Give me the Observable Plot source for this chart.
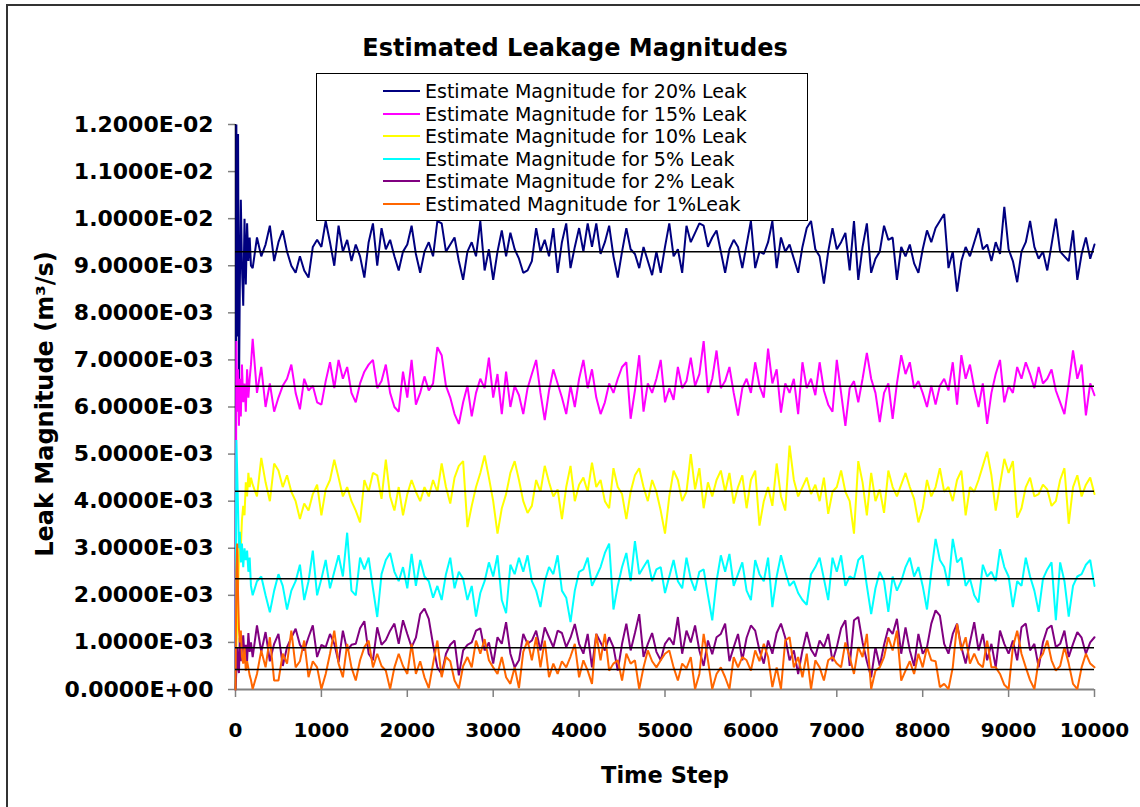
<!DOCTYPE html>
<html><head><meta charset="utf-8">
<script src="https://cdn.jsdelivr.net/npm/d3@7"></script>
<script src="https://cdn.jsdelivr.net/npm/@observablehq/plot@0.6"></script>
<style>
html,body{margin:0;padding:0;background:#fff;}
#wrap{position:relative;width:1140px;height:807px;overflow:hidden;font-family:"DejaVu Sans",sans-serif;}
#frame{position:absolute;left:6px;top:4px;width:1150px;height:830px;border:2px solid #333;box-sizing:border-box;}
#chart{position:absolute;left:0;top:0;}
#chart svg text{font-weight:bold;font-family:"DejaVu Sans",sans-serif;fill:#000;}
#chart g[aria-label^="y-axis"] text{font-size:22px;}
#chart g[aria-label^="x-axis"] text{font-size:20px;}
#chart g[aria-label^="y-axis"] line, #chart g[aria-label^="x-axis"] line,
#chart g[aria-label^="y-axis"] path, #chart g[aria-label^="x-axis"] path{stroke:#808080;stroke-width:1.5px;}
#title{position:absolute;left:0;width:1150px;top:33px;text-align:center;font-weight:bold;font-size:24px;line-height:30px;color:#000;}
#ytitle{position:absolute;left:45px;top:404px;transform:translate(-50%,-50%) rotate(-90deg);white-space:nowrap;font-weight:bold;font-size:24px;color:#000;}
#legend{position:absolute;left:316px;top:73px;width:492px;height:148px;border:1px solid #000;box-sizing:border-box;background:#fff;}
.row{position:absolute;left:66px;height:22px;display:flex;align-items:center;font-size:19px;color:#000;white-space:nowrap;}
.sw{width:37px;height:0;border-top:2px solid;margin-right:5px;}
</style></head>
<body>
<div id="wrap">
  <div id="frame"></div>
  <div id="chart"></div>
  <div id="title"></div>
  <div id="ytitle"></div>
  <div id="legend"></div>
</div>
<script>
// ---- data (leak magnitude values in units of 1e-3 m^3/s) ----
const chartTitle = "Estimated Leakage Magnitudes";
const xLabel = "Time Step";
const yLabel = "Leak Magnitude (m³/s)";
const seriesNames = [
  "Estimate Magnitude for 20% Leak",
  "Estimate Magnitude for 15% Leak",
  "Estimate Magnitude for 10% Leak",
  "Estimate Magnitude for 5% Leak",
  "Estimate Magnitude for 2% Leak",
  "Estimated Magnitude for 1%Leak"
];
const seriesColors = ["#000080", "#FF00FF", "#FFFF00", "#00FFFF", "#800080", "#FF6600"];
const xTicks = [0, 1000, 2000, 3000, 4000, 5000, 6000, 7000, 8000, 9000, 10000];
const yTicks = [0, 0.001, 0.002, 0.003, 0.004, 0.005, 0.006, 0.007, 0.008, 0.009, 0.010, 0.011, 0.012];
const trueLevels = [9.30, 6.44, 4.21, 2.35, 0.886, 0.425];

// early transient time steps and values
const earlySteps = [0, 10, 20, 30, 40, 50, 62, 75, 90, 105, 120, 135, 150, 165, 180];
const early20 = [0, 12.0, 7.5, 11.8, 6.2, 8.5, 10.4, 9.0, 8.15, 10.0, 8.6, 9.9, 9.1, 9.6, 9.0];
const early15 = [0, 7.4, 5.9, 6.8, 5.6, 6.6, 5.8, 6.9, 6.1, 6.5, 5.9, 6.8, 6.2, 6.6, 6.9];
const early10 = [0, 0.9, 1.4, 2.2, 2.8, 3.3, 3.0, 3.6, 3.9, 3.7, 4.4, 4.1, 4.6, 4.3, 4.5];
const early5  = [0, 5.3, 4.6, 3.8, 3.0, 3.35, 2.7, 3.1, 2.6, 3.0, 2.75, 2.95, 2.5, 2.8, 2.2];
const early2  = [0, 0.4, 0.9, 0.5, 0.35, 1.1, 0.6, 0.85, 1.15, 0.7, 0.95, 0.6, 1.2, 0.8, 1.0];
const early1  = [0, 2.5, 3.1, 2.0, 1.3, 1.0, 1.25, 0.7, 0.55, 0.9, 0.4, 0.6, 0.45, 0.3, 0.2];

// main record: time steps 200, 250, ..., 10000 (every 50 steps)
const mainStart = 200, mainEvery = 50;
const leak20 = [
 8.95,9.6,9.2,9.45,9.85,9.1,9.5,9.75,9.3,9.0,
 8.85,9.2,8.9,8.75,9.4,9.55,9.4,9.95,9.5,9.0,
 9.85,9.3,9.55,9.1,9.45,9.2,8.75,9.5,9.9,9.0,
 9.8,9.35,9.55,9.2,8.9,9.3,9.45,9.85,9.25,8.85,
 9.3,9.5,9.2,9.95,9.9,9.3,9.45,9.6,9.1,8.7,
 9.3,9.5,9.2,9.95,8.9,9.35,8.7,9.3,9.75,9.2,
 9.7,9.35,9.15,8.85,8.9,9.1,9.8,9.3,9.55,9.2,
 9.8,8.85,9.5,9.9,8.95,9.4,9.8,9.3,9.9,9.4,
 9.9,9.25,9.5,9.85,9.2,8.75,9.3,9.8,9.35,9.25,
 8.95,9.4,9.1,8.8,9.3,8.85,9.4,9.9,9.2,9.35,
 8.85,9.85,9.5,9.7,9.9,9.85,9.4,9.6,9.75,9.3,
 8.85,9.35,9.55,9.4,8.95,9.45,9.95,8.95,9.3,9.25,
 9.5,9.95,8.95,9.6,9.3,9.45,9.15,8.85,9.4,9.8,
 9.95,9.35,9.2,8.62,9.3,9.8,9.35,9.5,9.7,8.9,
 9.95,8.7,9.4,9.9,8.85,9.15,9.3,9.85,9.55,9.6,
 8.7,9.4,9.2,9.45,9.05,8.85,9.35,9.75,9.5,9.8,
 9.95,10.1,8.95,9.3,8.45,9.1,9.4,9.2,9.5,9.8,
 9.35,9.45,9.1,9.5,9.25,10.25,9.35,9.1,8.65,9.3,
 9.5,9.95,9.4,9.15,9.3,8.9,9.45,10.0,9.3,9.2,
 9.1,9.75,8.7,9.25,9.6,9.15,9.45];
const leak15 = [
 7.45,6.3,6.85,6.0,6.5,5.9,6.2,6.45,6.6,6.9,
 6.3,5.95,6.6,6.35,6.45,6.1,6.05,6.55,6.95,6.4,
 7.0,6.6,6.85,6.3,6.1,6.5,6.75,6.9,7.0,6.4,
 6.55,6.9,6.3,6.0,5.9,6.75,6.2,7.0,6.05,6.3,
 6.65,6.35,6.5,7.27,7.1,6.45,6.2,5.85,5.64,6.1,
 6.45,5.8,6.3,6.6,6.4,7.05,6.2,6.7,5.85,6.75,
 6.0,6.45,6.25,5.85,6.4,6.7,7.0,6.3,5.72,6.35,
 6.8,6.5,6.2,5.85,6.45,6.0,6.6,7.0,6.4,6.8,
 6.2,5.85,6.1,6.5,6.3,6.6,6.85,6.95,5.75,6.35,
 7.1,5.9,6.5,6.3,6.6,7.0,6.1,6.4,6.15,6.85,
 6.4,6.55,7.05,6.45,6.7,7.4,6.3,6.6,7.2,6.4,
 6.55,6.85,6.3,5.82,6.4,6.6,6.3,6.95,6.45,6.2,
 7.24,6.5,6.8,5.88,6.5,6.3,6.6,5.85,6.95,6.4,
 6.6,6.25,6.95,6.35,6.05,5.9,7.0,6.3,5.6,6.4,
 6.55,6.1,6.6,7.15,6.6,6.3,5.68,6.3,6.5,5.75,
 6.5,7.1,6.7,6.95,6.4,6.55,6.3,6.0,6.45,6.05,
 6.45,6.6,6.35,6.95,6.05,7.1,6.6,6.9,6.4,6.0,
 6.5,5.64,6.3,6.7,7.0,6.1,6.45,6.3,6.85,6.6,
 6.95,6.7,6.4,6.85,6.5,6.6,6.8,6.35,6.1,5.85,
 6.5,7.2,6.6,6.9,5.82,6.5,6.25];
const leak10 = [
 4.35,4.1,4.92,4.4,4.0,4.8,4.65,4.3,4.55,4.2,
 4.0,3.62,3.95,3.8,4.15,4.35,3.7,4.25,4.45,4.88,
 4.5,4.1,4.3,4.0,3.8,3.55,4.45,4.2,4.6,4.55,
 4.05,4.88,4.1,3.8,4.3,3.7,4.15,4.45,4.2,4.0,
 4.3,4.1,4.45,4.2,4.8,4.3,3.95,4.5,4.75,4.85,
 3.45,3.9,4.3,4.6,4.97,4.5,4.0,3.31,3.85,4.15,
 4.6,4.85,4.45,4.0,3.75,3.9,4.45,4.2,4.75,4.4,
 4.1,4.25,3.62,4.3,4.75,4.0,4.35,4.5,4.2,4.82,
 4.3,4.45,4.0,3.85,4.7,4.3,4.15,3.62,4.2,4.55,
 4.7,4.3,4.0,4.45,4.2,3.8,3.31,4.1,4.65,4.45,
 4.0,4.2,5.0,4.25,4.7,3.85,4.4,4.1,4.45,4.65,
 4.2,4.6,3.95,4.3,4.55,3.85,4.45,4.65,3.48,4.0,
 4.3,3.9,4.8,4.1,3.8,5.18,4.45,4.1,4.3,4.5,
 4.15,4.35,4.0,4.5,3.73,4.2,4.3,4.65,4.2,4.0,
 3.31,4.85,4.4,3.7,4.6,4.0,4.25,3.75,4.65,4.3,
 4.1,4.35,4.6,4.3,4.05,3.55,3.85,4.45,4.1,4.3,
 4.7,4.2,4.3,4.0,4.45,4.65,3.7,4.3,4.2,4.45,
 4.75,5.05,4.55,3.8,4.35,4.9,4.6,4.85,3.65,3.85,
 4.3,4.5,4.1,4.15,4.35,4.25,3.9,4.0,4.45,4.7,
 3.52,4.3,4.55,4.1,4.35,4.5,4.15];
const leak5 = [
 2.0,2.3,2.4,2.0,1.64,2.1,2.45,2.2,1.7,2.1,
 2.3,2.65,1.9,2.3,2.95,2.0,2.35,2.75,2.15,2.5,
 2.85,2.4,3.33,2.1,2.0,2.8,2.55,2.8,2.15,1.54,
 2.45,2.75,2.9,2.5,2.3,2.6,2.15,2.88,2.2,2.75,
 2.4,2.3,1.95,2.2,1.9,2.45,2.8,2.15,2.5,2.35,
 1.9,2.2,1.55,2.05,2.3,2.7,2.4,2.85,1.9,1.62,
 2.65,2.45,2.8,2.5,2.85,2.3,2.1,1.75,2.3,2.6,
 2.45,2.85,2.1,1.95,1.43,2.1,2.5,2.55,2.8,2.2,
 2.4,2.6,2.9,3.1,1.7,2.2,2.6,2.9,2.3,3.15,
 2.45,2.6,2.75,2.3,2.55,2.6,2.05,2.4,2.75,2.3,
 2.15,2.8,2.35,2.1,2.5,2.55,2.0,1.47,2.3,2.85,
 2.5,2.88,2.2,2.45,2.7,2.1,1.9,2.75,2.45,2.3,
 2.8,1.75,2.4,2.85,2.5,2.2,2.3,2.05,1.9,1.8,
 2.45,2.6,2.8,2.35,1.9,2.8,2.5,2.85,2.2,2.4,
 2.35,2.75,2.85,2.2,1.6,2.15,2.5,2.3,1.65,2.4,
 2.1,2.3,2.6,2.8,2.4,2.6,2.2,1.7,2.5,3.2,
 2.75,2.6,2.2,3.2,2.7,2.8,2.2,2.35,2.0,1.85,
 2.65,2.4,2.5,2.3,2.98,2.6,2.4,1.75,2.3,2.2,
 2.8,2.4,2.1,1.65,2.35,2.55,2.7,1.47,2.7,2.3,
 1.55,2.2,2.4,2.45,2.65,2.75,2.2];
const leak2 = [
 0.69,1.36,0.8,1.22,0.6,0.97,1.18,0.5,0.9,1.1,
 1.29,0.95,0.83,1.11,1.36,0.69,0.95,0.9,1.18,0.97,
 0.58,1.25,0.83,0.95,0.97,1.3,1.45,0.76,0.62,1.32,
 0.95,1.05,1.25,1.4,0.97,1.47,1.18,0.9,1.1,1.6,
 1.72,1.5,0.95,0.47,0.33,0.76,0.95,1.04,0.3,0.83,
 0.95,1.0,1.25,1.3,0.83,1.0,0.55,1.11,0.97,1.43,
 0.76,0.47,0.62,1.18,0.97,1.04,1.25,0.83,1.32,1.11,
 0.9,1.25,1.2,0.9,1.1,1.39,0.97,0.76,1.18,0.47,
 1.18,1.0,0.83,1.11,0.9,0.4,0.97,1.4,0.83,1.2,
 1.6,0.69,0.97,1.2,0.8,0.62,0.97,1.1,0.95,1.54,
 0.76,1.25,1.0,1.36,0.83,0.5,1.04,0.75,1.11,1.18,
 1.4,0.6,0.9,1.18,0.62,1.1,1.36,1.25,0.83,0.55,
 1.04,0.76,1.2,1.4,1.1,0.62,0.83,0.33,0.83,1.22,
 0.85,0.7,1.04,0.9,1.18,0.6,0.9,1.3,1.47,0.5,
 1.47,1.54,1.0,0.6,0.26,0.9,0.5,0.95,1.3,1.18,
 1.5,0.76,1.32,0.83,0.5,1.18,0.76,0.9,1.4,1.68,
 1.57,0.97,0.76,1.18,1.4,0.9,0.55,1.0,1.43,0.83,
 1.18,0.62,0.97,0.47,1.25,0.97,0.76,1.04,0.62,1.32,
 1.4,0.83,0.97,0.47,1.0,1.29,1.36,0.9,0.97,1.25,
 0.69,0.97,1.22,1.1,0.76,1.0,1.11];
const leak1 = [
 0.01,0.33,0.83,0.47,1.11,0.19,0.19,0.76,0.55,1.25,
 0.47,0.6,1.04,0.26,0.6,0.47,0.01,0.33,0.76,1.25,
 0.55,0.26,0.97,0.47,0.19,0.62,0.9,1.04,0.47,0.76,
 0.5,0.4,0.01,0.47,0.76,0.5,0.33,0.97,0.33,0.6,
 0.26,0.03,0.55,1.04,0.26,0.69,0.6,0.19,0.02,0.5,
 0.69,0.47,1.04,0.76,1.07,0.62,0.47,0.33,0.69,0.26,
 0.12,0.47,0.03,0.8,1.04,0.62,1.11,0.47,1.04,0.26,
 0.55,0.33,0.6,0.47,0.7,0.97,0.26,0.62,0.4,0.12,
 1.18,0.62,1.18,0.4,0.55,0.62,0.19,0.76,0.55,0.62,
 0.01,0.47,0.83,0.6,0.47,0.62,0.76,0.83,0.47,0.19,
 0.55,0.45,0.69,0.01,0.33,1.18,0.62,0.01,0.33,0.47,
 0.26,0.01,0.69,0.47,0.69,0.62,0.4,0.83,0.6,0.97,
 0.69,0.05,0.47,0.01,1.04,1.11,0.47,0.69,0.26,0.76,
 0.01,0.62,0.47,0.19,0.62,0.69,0.55,0.47,1.0,0.69,
 0.33,0.9,0.69,1.18,0.01,0.4,0.47,0.69,1.11,0.83,
 1.25,0.19,0.4,0.6,0.33,0.76,0.47,0.9,0.62,0.6,
 0.05,0.12,0.01,0.47,1.395,0.83,1.11,0.55,0.76,0.55,
 0.47,1.04,0.47,0.47,0.33,0.1,0.01,0.9,1.25,0.76,
 0.47,0.2,0.01,0.62,0.76,1.04,0.62,0.4,0.5,0.9,
 0.55,0.12,0.01,0.47,0.76,0.55,0.47];

// ---- build tables ----
const earlyAll = [early20, early15, early10, early5, early2, early1];
const mainAll = [leak20, leak15, leak10, leak5, leak2, leak1];
const rows = [];
mainAll.forEach((vals, s) => {
  earlySteps.forEach((t, i) => rows.push({series: s, t, v: earlyAll[s][i] / 1000}));
  vals.forEach((v, i) => rows.push({series: s, t: mainStart + mainEvery * i, v: v / 1000}));
});

const sci = v => {
  const [m, e] = v.toExponential(4).split("e");
  return m + "E" + e[0] + e.slice(1).padStart(2, "0");
};
const FONT = "DejaVu Sans";

const marks = [
  Plot.ruleY([0], {stroke: "#808080", strokeWidth: 2}),
  Plot.ruleX([0], {stroke: "#000", strokeWidth: 1.5}),
  ...mainAll.map((_, s) => Plot.line(rows.filter(d => d.series === s), {
    x: "t", y: "v", stroke: seriesColors[s], strokeWidth: 2, strokeLinejoin: "miter"
  })),
  Plot.ruleY(trueLevels.map(v => v / 1000), {stroke: "#000", strokeWidth: 1.5}),
  Plot.text([xLabel], {text: d => d, frameAnchor: "bottom", dy: 93, fontSize: 22.5, fontWeight: "bold", fontFamily: FONT, fill: "#000"})
];

const chart = Plot.plot({
  width: 1140,
  height: 807,
  marginLeft: 235,
  marginRight: 46,
  marginTop: 124,
  marginBottom: 118,
  style: {fontFamily: FONT, background: "transparent", overflow: "visible"},
  x: {domain: [0, 10000], ticks: xTicks, tickFormat: d => String(d), tickSize: 8, tickPadding: 25, label: null},
  y: {domain: [0, 0.012], ticks: yTicks, tickFormat: sci, tickSize: 7, tickPadding: 15, label: null},
  marks
});
document.getElementById("chart").appendChild(chart);

document.getElementById("title").textContent = chartTitle;
document.getElementById("ytitle").textContent = yLabel;
const legend = document.getElementById("legend");
seriesNames.forEach((name, i) => {
  const r = document.createElement("div");
  r.className = "row";
  r.style.top = (6 + 22.5 * i) + "px";
  const sw = document.createElement("div");
  sw.className = "sw";
  sw.style.borderTopColor = seriesColors[i];
  const tx = document.createElement("span");
  tx.textContent = name;
  r.appendChild(sw); r.appendChild(tx);
  legend.appendChild(r);
});
</script>
</body></html>
